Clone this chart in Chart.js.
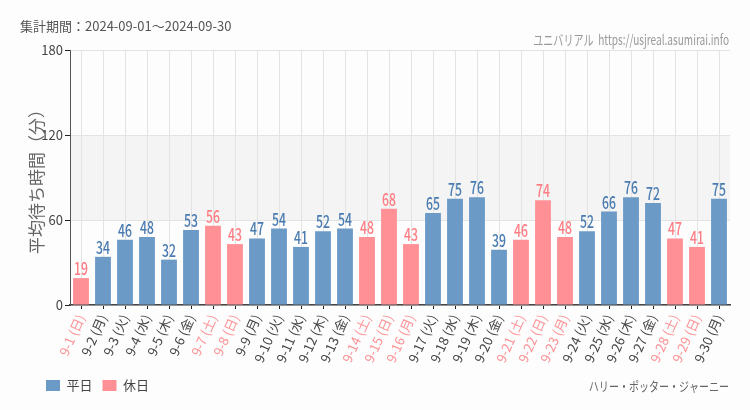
<!DOCTYPE html>
<html>
<head>
<meta charset="utf-8">
<script src="https://cdn.jsdelivr.net/npm/chart.js@4"></script>
<style>
  html, body { margin: 0; padding: 0; background: #fcfdfc; }
  #wrap { width: 750px; height: 410px; position: relative; }
</style>
</head>
<body>
<div id="wrap"><canvas id="waitChart" width="750" height="410"></canvas></div>
<script>
// Chart data (September 2024)
const dayLabels = ['9-1 (日)', '9-2 (月)', '9-3 (火)', '9-4 (水)', '9-5 (木)', '9-6 (金)', '9-7 (土)', '9-8 (日)',
  '9-9 (月)', '9-10 (火)', '9-11 (水)', '9-12 (木)', '9-13 (金)', '9-14 (土)', '9-15 (日)', '9-16 (月)',
  '9-17 (火)', '9-18 (水)', '9-19 (木)', '9-20 (金)', '9-21 (土)', '9-22 (日)', '9-23 (月)', '9-24 (火)',
  '9-25 (水)', '9-26 (木)', '9-27 (金)', '9-28 (土)', '9-29 (日)', '9-30 (月)'];
const waitMinutes = [19, 34, 46, 48, 32, 53, 56, 43, 47, 54, 41, 52, 54, 48, 68, 43,
  65, 75, 76, 39, 46, 74, 48, 52, 66, 76, 72, 47, 41, 75];
const holidayFlags = [1, 0, 0, 0, 0, 0, 1, 1, 0, 0, 0, 0, 0, 1, 1, 1,
  0, 0, 0, 0, 1, 1, 1, 0, 0, 0, 0, 1, 1, 0];
const yTicks = [0, 60, 120, 180];

const WEEKDAY_COLOR = '#6b9ac7';
const HOLIDAY_COLOR = '#ff9196';
const WEEKDAY_TEXT = '#4a7bb1';
const HOLIDAY_TEXT = '#ff7d84';
const JP_FONT = '"Noto Sans CJK JP", "Noto Sans", sans-serif';

const weekdayData = waitMinutes.map((v, i) => holidayFlags[i] ? null : v);
const holidayData = waitMinutes.map((v, i) => holidayFlags[i] ? v : null);

// draw horizontally squeezed text (the original uses a condensed face)
function drawNarrow(ctx, text, x, y, squeeze, align) {
  ctx.save();
  ctx.translate(x, y);
  ctx.scale(squeeze, 1);
  ctx.textAlign = align;
  ctx.fillText(text, 0, 0);
  ctx.restore();
}

// gray band between 60 and 120 + header / footer texts
const decorPlugin = {
  id: 'decor',
  afterLayout(chart) {
    // push legend to the right a bit
    if (chart.legend) chart.legend.left += 16;
  },
  beforeDraw(chart) {
    const { ctx, chartArea, scales } = chart;
    const y = scales.y;
    ctx.save();
    ctx.fillStyle = '#f3f4f3';
    const top = y.getPixelForValue(120);
    const bottom = y.getPixelForValue(60);
    ctx.fillRect(chartArea.left, top, chartArea.right - chartArea.left, bottom - top);
    ctx.restore();
  },
  afterDraw(chart) {
    const { ctx } = chart;
    ctx.save();
    ctx.textBaseline = 'middle';
    ctx.fillStyle = '#555';
    ctx.font = '13px ' + JP_FONT;
    ctx.textAlign = 'left';
    ctx.fillText('集計期間：2024-09-01～2024-09-30', 20, 26);

    ctx.fillStyle = '#999';
    ctx.font = '14px ' + JP_FONT;
    drawNarrow(ctx, 'ユニバリアル  https://usjreal.asumirai.info', 729, 40, 0.72, 'right');

    ctx.fillStyle = '#666';
    ctx.font = '13px ' + JP_FONT;
    drawNarrow(ctx, 'ハリー・ポッター・ジャーニー', 729, 386, 0.77, 'right');

    // value labels above bars
    ctx.textBaseline = 'alphabetic';
    ctx.font = '500 17px ' + JP_FONT;
    chart.data.datasets.forEach((ds, di) => {
      const meta = chart.getDatasetMeta(di);
      meta.data.forEach((bar, i) => {
        if (ds.data[i] == null) return;
        ctx.fillStyle = di === 0 ? WEEKDAY_TEXT : HOLIDAY_TEXT;
        drawNarrow(ctx, String(ds.data[i]), bar.x, bar.y - 3, 0.72, 'center');
      });
    });
    ctx.restore();
  }
};

const ctx = document.getElementById('waitChart').getContext('2d');
new Chart(ctx, {
  type: 'bar',
  data: {
    labels: dayLabels,
    datasets: [
      {
        label: '平日',
        data: weekdayData,
        backgroundColor: WEEKDAY_COLOR,
        grouped: false,
        barPercentage: 0.72,
        categoryPercentage: 1
      },
      {
        label: '休日',
        data: holidayData,
        backgroundColor: HOLIDAY_COLOR,
        grouped: false,
        barPercentage: 0.72,
        categoryPercentage: 1
      }
    ]
  },
  options: {
    responsive: false,
    animation: false,
    layout: {
      padding: { top: 50, right: 20, left: 20, bottom: 8 }
    },
    plugins: {
      legend: {
        position: 'bottom',
        align: 'start',
        labels: {
          boxWidth: 14,
          boxHeight: 11,
          padding: 10,
          color: '#444',
          font: { family: JP_FONT, size: 13 }
        }
      },
      tooltip: { enabled: false }
    },
    scales: {
      x: {
        afterFit: (axis) => { axis.height = 64; },
        grid: {
          offset: false,
          color: '#e3e3e3',
          tickColor: '#222',
          tickLength: 4
        },
        border: { color: '#444', width: 1.5 },
        ticks: {
          minRotation: 66,
          maxRotation: 66,
          autoSkip: false,
          padding: 3,
          font: { family: JP_FONT, size: 13 },
          color: (c) => holidayFlags[c.index] ? HOLIDAY_COLOR : '#444'
        }
      },
      y: {
        min: 0,
        max: 180,
        afterBuildTicks: (axis) => { axis.ticks = yTicks.map(v => ({ value: v })); },
        afterFit: (axis) => { axis.width = 50; },
        grid: {
          color: '#e3e3e3',
          tickColor: '#222',
          tickLength: 5
        },
        border: { color: '#555', width: 1 },
        ticks: {
          color: '#444',
          padding: 2,
          font: { family: JP_FONT, size: 13 }
        },
        title: {
          display: true,
          text: '平均待ち時間（分）',
          color: '#666',
          font: { family: JP_FONT, size: 17 },
          padding: { top: 6, bottom: 4 }
        }
      }
    }
  },
  plugins: [decorPlugin]
});
</script>
</body>
</html>
